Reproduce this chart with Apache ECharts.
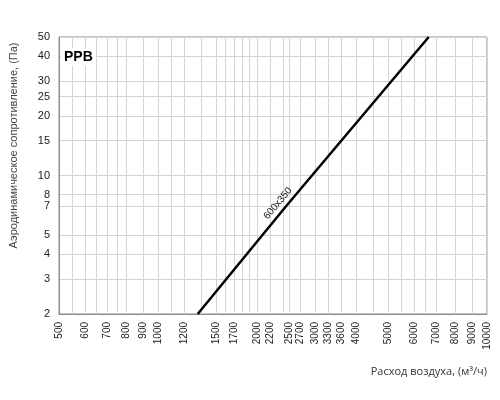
<!DOCTYPE html>
<html>
<head>
<meta charset="utf-8">
<script src="https://cdn.jsdelivr.net/npm/echarts@6/dist/echarts.min.js"></script>
<style>
  html, body { margin: 0; padding: 0; background: #fff; }
  #main { width: 500px; height: 400px; }
</style>
</head>
<body>
<div id="main"></div>
<script>
// расход воздуха, м3/ч — подписи и линии сетки
const xLabels = [500, 600, 700, 800, 900, 1000, 1200, 1500, 1700, 2000, 2200, 2500, 2700,
    3000, 3300, 3600, 4000, 5000, 6000, 7000, 8000, 9000, 10000]
const xGrid = [500, 550, 600, 650, 700, 750, 800, 900, 1000, 1100, 1200, 1350, 1500, 1600,
    1700, 1800, 1900, 2000, 2200, 2400, 2500, 2700, 3000, 3300, 3600, 4000, 4500, 5000,
    5500, 6000, 6500, 7000, 8000, 9000, 10000]
// сопротивление, Па
const yLabels = [2, 3, 4, 5, 7, 8, 10, 15, 20, 25, 30, 40, 50]

// кривая 600x350
const flow = [1320, 2450, 6650]
const pressure = [2, 7, 50]
const curveName = '600x350'

const lg = v => Math.log10(v)
const fmt = v => String(Math.round(Math.pow(10, v)))

const chartDom = document.getElementById('main')
const myChart = echarts.init(chartDom)

const lineData = flow.map((q, i) => {
    const item = { value: [lg(q), lg(pressure[i])] }
    if (i === 1) {
        item.label = {
            show: true,
            formatter: curveName,
            position: 'inside',
            rotate: 50,
            offset: [-3, -8],
            fontFamily: 'Liberation Sans',
            fontSize: 10,
            color: '#111'
        }
    }
    return item
})

const option = {
    animation: false,
    backgroundColor: '#fff',
    title: [
        {
            text: 'PPB',
            left: 61,
            top: 48,
            padding: [2, 3],
            backgroundColor: '#fff',
            textStyle: { fontFamily: 'Liberation Sans', fontSize: 14, fontWeight: 'bold', color: '#000' }
        },
        {
            text: 'Расход воздуха, (м³/ч)',
            right: 13,
            top: 366,
            padding: 0,
            textStyle: { fontFamily: 'Open Sans', fontSize: 11, fontWeight: 'normal', color: '#333' }
        }
    ],
    grid: {
        left: 52,
        right: 13,
        top: 37,
        bottom: 86,
        show: true,
        borderColor: '#8c8c8c',
        borderWidth: 1
    },
    xAxis: {
        type: 'value',
        min: lg(500),
        max: 4,
        axisLine: { lineStyle: { color: '#8c8c8c' } },
        axisTick: { show: false, customValues: xGrid.map(lg) },
        splitLine: { show: true, lineStyle: { color: '#d4d4d4', width: 1 } },
        axisLabel: {
            customValues: xLabels.map(lg),
            formatter: fmt,
            rotate: 90,
            margin: 8,
            fontFamily: 'Liberation Sans',
            fontSize: 10,
            color: '#222'
        }
    },
    yAxis: {
        type: 'value',
        min: lg(2),
        max: lg(50),
        name: 'Аэродинамическое сопротивление, (Па)',
        nameLocation: 'middle',
        nameGap: 40,
        nameRotate: 90,
        nameTextStyle: { fontFamily: 'Liberation Sans', fontSize: 11, color: '#444', padding: [0, 0, 0, 60] },
        axisLine: { show: true, lineStyle: { color: '#8c8c8c' } },
        axisTick: { show: false, customValues: yLabels.map(lg) },
        splitLine: { show: true, lineStyle: { color: '#d4d4d4', width: 1 } },
        axisLabel: {
            customValues: yLabels.map(lg),
            formatter: fmt,
            margin: 9,
            fontFamily: 'Liberation Sans',
            fontSize: 11,
            color: '#222'
        }
    },
    series: [
        {
            name: curveName,
            type: 'line',
            data: lineData,
            showSymbol: true,
            symbol: 'circle',
            symbolSize: 0,
            lineStyle: { color: '#000', width: 2.5 },
            itemStyle: { color: '#000' },
            silent: true
        }
    ]
}

myChart.setOption(option)
</script>
</body>
</html>
